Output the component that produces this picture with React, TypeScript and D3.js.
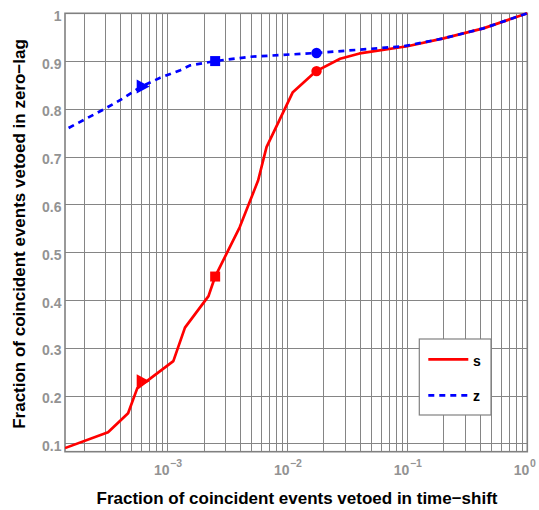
import React, { useEffect, useRef } from "react";
import * as d3 from "d3";

// time-shift fraction (x) vs zero-lag fraction (y)
const sX = [1.4e-4, 3.2e-4, 4.7e-4, 5.6e-4, 1.12e-3, 1.4e-3, 2.2e-3, 2.5e-3, 4.0e-3, 5.7e-3, 6.7e-3, 1.11e-2, 1.74e-2, 2.75e-2, 4.0e-2, 0.1, 0.2, 0.43, 1];
const sY = [0.09, 0.123, 0.163, 0.215, 0.272, 0.342, 0.408, 0.449, 0.552, 0.65, 0.72, 0.835, 0.879, 0.905, 0.916, 0.931, 0.9475, 0.9685, 1];

const zX = [1.5e-4, 3.0e-4, 4.2e-4, 6.1e-4, 8.7e-4, 1.28e-3, 1.55e-3, 2.5e-3, 4.9e-3, 1.76e-2, 9.3e-2, 0.2, 0.43, 1];
const zY = [0.76, 0.8, 0.821, 0.847, 0.865, 0.881, 0.891, 0.9, 0.909, 0.917, 0.931, 0.9475, 0.9685, 1];

// marker positions (triangle, square, circle)
const markerX = [6.1e-4, 2.5e-3, 1.75e-2];
const sMarkerY = [0.23, 0.449, 0.879];
const zMarkerY = [0.847, 0.9, 0.917];

const yTicks = [0.1, 0.2, 0.3, 0.4, 0.5, 0.6, 0.7, 0.8, 0.9, 1];
const yTickLabels = ["0.1", "0.2", "0.3", "0.4", "0.5", "0.6", "0.7", "0.8", "0.9", "1"];
const xDecades = [-3, -2, -1, 0];

const W = 539;
const H = 510;
const margin = { top: 13.3, right: 539 - 527.3, bottom: 510 - 451.7, left: 65 };
const FONT = "'Liberation Sans', Arial, Helvetica, sans-serif";
const GRID = "#858585";
const TICK_TEXT = "#939393";

export default function App() {
  const ref = useRef<SVGSVGElement>(null);

  useEffect(() => {
    const svg = d3.select(ref.current);
    svg.selectAll("*").remove();

    const x = d3.scaleLog().domain([1.4e-4, 1]).range([margin.left, W - margin.right]);
    const y = d3.scaleLinear().domain([0.0824, 1]).range([H - margin.bottom, margin.top]);

    const g = svg.append("g");

    // grid: minor + major vertical lines
    const vLines: number[] = [];
    for (let e = -4; e < 0; e++) {
      for (let k = 1; k < 10; k++) {
        const v = k * Math.pow(10, e);
        if (v > 1.4e-4 && v < 1) vLines.push(v);
      }
    }
    const snap = (p: number) => Math.round(p) + 0.5;
    g.selectAll("line.vgrid")
      .data(vLines)
      .enter()
      .append("line")
      .attr("class", "vgrid")
      .attr("x1", (d) => snap(x(d)))
      .attr("x2", (d) => snap(x(d)))
      .attr("y1", y.range()[0])
      .attr("y2", y.range()[1])
      .attr("stroke", GRID)
      .attr("stroke-width", 1);

    g.selectAll("line.hgrid")
      .data(yTicks)
      .enter()
      .append("line")
      .attr("class", "hgrid")
      .attr("x1", x.range()[0])
      .attr("x2", x.range()[1])
      .attr("y1", (d) => snap(y(d)))
      .attr("y2", (d) => snap(y(d)))
      .attr("stroke", GRID)
      .attr("stroke-width", 1);

    // frame
    g.append("rect")
      .attr("x", x.range()[0])
      .attr("y", y.range()[1])
      .attr("width", x.range()[1] - x.range()[0])
      .attr("height", y.range()[0] - y.range()[1])
      .attr("fill", "none")
      .attr("stroke", "#808080")
      .attr("stroke-width", 1.6);

    // y tick labels
    g.selectAll("text.ytick")
      .data(yTicks)
      .enter()
      .append("text")
      .attr("class", "ytick")
      .attr("x", margin.left - 3.5)
      .attr("y", (d) => y(d) + 7.6)
      .attr("text-anchor", "end")
      .attr("font-family", FONT)
      .attr("font-weight", "bold")
      .attr("font-size", 14)
      .attr("fill", TICK_TEXT)
      .text((d, i) => yTickLabels[i]);

    // x tick labels: 10^e
    const xt = g
      .selectAll("text.xtick")
      .data(xDecades)
      .enter()
      .append("text")
      .attr("class", "xtick")
      .attr("x", (d) => x(Math.pow(10, d)) - 13.5)
      .attr("y", 475)
      .attr("font-family", FONT)
      .attr("font-weight", "bold")
      .attr("font-size", 14)
      .attr("fill", TICK_TEXT);
    xt.append("tspan").text("10");
    xt.append("tspan")
      .attr("dy", -8.5)
      .attr("dx", 0.5)
      .attr("font-size", 10.5)
      .text((d) => (d === 0 ? "0" : "\u2212" + Math.abs(d)));

    // curves
    const line = d3
      .line<[number, number]>()
      .x((d) => x(d[0]))
      .y((d) => y(d[1]));

    const sData = sX.map((v, i) => [v, sY[i]] as [number, number]);
    const zData = zX.map((v, i) => [v, zY[i]] as [number, number]);

    svg.append("defs")
      .append("clipPath")
      .attr("id", "plotclip")
      .append("rect")
      .attr("x", x.range()[0])
      .attr("y", y.range()[1] - 3)
      .attr("width", x.range()[1] - x.range()[0] + 3)
      .attr("height", y.range()[0] - y.range()[1] + 3);

    const plot = g.append("g").attr("clip-path", "url(#plotclip)");

    plot.append("path")
      .datum(sData)
      .attr("d", line)
      .attr("fill", "none")
      .attr("stroke", "#ff0000")
      .attr("stroke-width", 2.7)
      .attr("stroke-linejoin", "round");

    plot.append("path")
      .datum(zData)
      .attr("d", line)
      .attr("fill", "none")
      .attr("stroke", "#0000ff")
      .attr("stroke-width", 2.7)
      .attr("stroke-dasharray", "6,5");

    // markers
    const drawMarkers = (ys: number[], color: string) => {
      markerX.forEach((mx, i) => {
        const cx = x(mx);
        const cy = y(ys[i]);
        if (i === 0) {
          g.append("path")
            .attr("d", `M${cx - 5},${cy - 7}L${cx + 8},${cy}L${cx - 5},${cy + 7}Z`)
            .attr("fill", color);
        } else if (i === 1) {
          g.append("rect")
            .attr("x", cx - 5)
            .attr("y", cy - 5)
            .attr("width", 10)
            .attr("height", 10)
            .attr("fill", color);
        } else {
          g.append("circle").attr("cx", cx).attr("cy", cy).attr("r", 5.2).attr("fill", color);
        }
      });
    };
    drawMarkers(sMarkerY, "#ff0000");
    drawMarkers(zMarkerY, "#0000ff");

    // legend
    const lg = g.append("g");
    lg.append("rect")
      .attr("x", 419.3)
      .attr("y", 339)
      .attr("width", 71.7)
      .attr("height", 76)
      .attr("fill", "#ffffff")
      .attr("stroke", "#808080")
      .attr("stroke-width", 1.2);
    lg.append("line")
      .attr("x1", 428.3)
      .attr("x2", 468.3)
      .attr("y1", 359.3)
      .attr("y2", 359.3)
      .attr("stroke", "#ff0000")
      .attr("stroke-width", 2.7);
    lg.append("line")
      .attr("x1", 428.3)
      .attr("x2", 468.3)
      .attr("y1", 395.3)
      .attr("y2", 395.3)
      .attr("stroke", "#0000ff")
      .attr("stroke-width", 2.7)
      .attr("stroke-dasharray", "6,5");
    [["s", 365.8], ["z", 400.8]].forEach(([t, ty]) => {
      lg.append("text")
        .attr("x", 473)
        .attr("y", ty as number)
        .attr("font-family", FONT)
        .attr("font-weight", "bold")
        .attr("font-size", 14)
        .attr("fill", "#000")
        .text(t as string);
    });

    // axis labels
    svg.append("text")
      .attr("x", 297)
      .attr("y", 504)
      .attr("text-anchor", "middle")
      .attr("font-family", FONT)
      .attr("font-weight", "bold")
      .attr("font-size", 17)
      .attr("fill", "#000")
      .text("Fraction of coincident events vetoed in time\u2212shift");

    svg.append("text")
      .attr("transform", "translate(25,234) rotate(-90)")
      .attr("text-anchor", "middle")
      .attr("font-family", FONT)
      .attr("font-weight", "bold")
      .attr("font-size", 17)
      .attr("fill", "#000")
      .text("Fraction of coincident events vetoed in zero\u2212lag");
  }, []);

  return (
    <svg
      ref={ref}
      width={W}
      height={H}
      style={{ position: "absolute", left: 0, top: 0, background: "#fff" }}
    />
  );
}
